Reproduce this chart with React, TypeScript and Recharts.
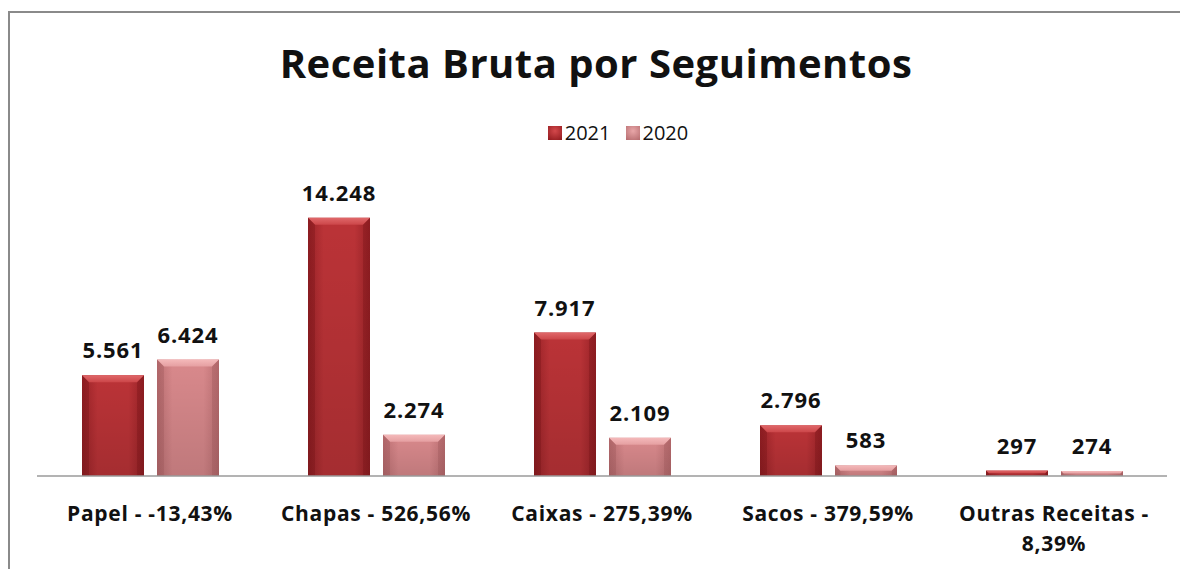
import React from "react";
import { BarChart, Bar, XAxis, YAxis, LabelList } from "recharts";

const categories = [
  "Papel - -13,43%",
  "Chapas - 526,56%",
  "Caixas - 275,39%",
  "Sacos - 379,59%",
  "Outras Receitas - 8,39%",
];
const values2021 = [5561, 14248, 7917, 2796, 297];
const values2020 = [6424, 2274, 2109, 583, 274];
const seriesNames = ["2021", "2020"];

const data = categories.map((name, i) => ({
  name,
  v2021: values2021[i],
  v2020: values2020[i],
}));

const FONT = "'Open Sans', 'Noto Sans', sans-serif";

const fmt = (v: number) => v.toLocaleString("de-DE");

const makeShape = (id: string) => (props: any) => {
  const { x, y, width, height } = props;
  if (!height || height <= 0) return null;
  const b = Math.min(7, height / 2);
  return (
    <g>
      <rect x={x} y={y} width={width} height={height} fill={`url(#${id}Body)`} />
      <rect x={x} y={y} width={width} height={height} fill="url(#shade)" />
      <polygon
        points={`${x},${y} ${x + width},${y} ${x + width - b},${y + b} ${x + b},${y + b}`}
        fill={`url(#${id}Top)`}
      />
      <polygon
        points={`${x},${y} ${x + b},${y + b} ${x + b},${y + height} ${x},${y + height}`}
        fill={`url(#${id}Side)`}
        opacity={0.3}
      />
      <polygon
        points={`${x + width},${y} ${x + width - b},${y + b} ${x + width - b},${y + height} ${x + width},${y + height}`}
        fill={`url(#${id}Side)`}
        opacity={0.3}
      />
    </g>
  );
};

const ValueLabel = (props: any) => {
  const { x, y, width, value } = props;
  return (
    <text
      x={x + width / 2}
      y={y - 17}
      textAnchor="middle"
      fontFamily={FONT}
      fontWeight={700}
      fontSize={22}
      letterSpacing={0.9}
      fill="#111"
    >
      {fmt(value)}
    </text>
  );
};

const CategoryTick = (props: any) => {
  const { x, y, payload } = props;
  const words = String(payload.value).split(" ");
  const lines: string[] = [];
  let cur = "";
  words.forEach((w) => {
    const next = cur ? cur + " " + w : w;
    if (next.length > 20 && cur) {
      lines.push(cur);
      cur = w;
    } else {
      cur = next;
    }
  });
  if (cur) lines.push(cur);
  return (
    <text
      x={x}
      y={y}
      textAnchor="middle"
      fontFamily={FONT}
      fontWeight={700}
      fontSize={21}
      letterSpacing={0.7}
      fill="#111"
    >
      {lines.map((l, i) => (
        <tspan key={i} x={x} dy={i === 0 ? 37 : 30}>
          {l}
        </tspan>
      ))}
    </text>
  );
};

const LegendBox = () => (
  <div
    style={{
      position: "absolute",
      left: 0,
      top: 119,
      width: 1236,
      display: "flex",
      justifyContent: "center",
      gap: 15,
      fontFamily: FONT,
      fontSize: 20,
      lineHeight: "28px",
      color: "#111",
    }}
  >
    {seriesNames.map((n, i) => (
      <div key={n} style={{ display: "flex", alignItems: "center", gap: 3 }}>
        <span
          style={{
            width: 14,
            height: 14,
            display: "inline-block",
            background:
              i === 0
                ? "radial-gradient(circle at 50% 35%, #d4484b, #8e181c)"
                : "radial-gradient(circle at 50% 35%, #e8a6a8, #b46a6d)",
          }}
        />
        <span>{n}</span>
      </div>
    ))}
  </div>
);

export default function App() {
  return (
    <div
      style={{
        position: "absolute",
        left: 0,
        top: 0,
        width: 1180,
        height: 569,
        overflow: "hidden",
        background: "#fff",
      }}
    >
      <div
        style={{
          position: "absolute",
          left: 8,
          top: 11,
          width: 1200,
          height: 600,
          borderLeft: "2px solid #8a8a8a",
          borderTop: "2px solid #8a8a8a",
        }}
      />
      <div
        style={{
          position: "absolute",
          left: 0,
          top: 35,
          width: 1192,
          textAlign: "center",
          fontFamily: FONT,
          fontWeight: 700,
          fontSize: 40,
          letterSpacing: 0.5,
          color: "#111",
        }}
      >
        Receita Bruta por Seguimentos
      </div>
      <LegendBox />
      <div style={{ position: "absolute", left: 0, top: 0 }}>
        <BarChart
          width={1180}
          height={569}
          data={data}
          margin={{ top: 186, right: 13, bottom: 63, left: 37 }}
          barSize={62}
          barGap={13}
        >
          <defs>
            <linearGradient id="shade" x1="0" y1="0" x2="0" y2="1">
              <stop offset="0%" stopColor="#000" stopOpacity={0} />
              <stop offset="100%" stopColor="#000" stopOpacity={0.12} />
            </linearGradient>
            <linearGradient id="r21Body" x1="0" y1="0" x2="1" y2="0">
              <stop offset="0%" stopColor="#992227" />
              <stop offset="25%" stopColor="#bb3337" />
              <stop offset="75%" stopColor="#bb3337" />
              <stop offset="100%" stopColor="#992227" />
            </linearGradient>
            <linearGradient id="r21Top" x1="0" y1="0" x2="0" y2="1">
              <stop offset="0%" stopColor="#e0686a" />
              <stop offset="100%" stopColor="#cc4649" />
            </linearGradient>
            <linearGradient id="r21Side" x1="0" y1="0" x2="0" y2="1">
              <stop offset="0%" stopColor="#6e0e12" />
              <stop offset="100%" stopColor="#6e0e12" />
            </linearGradient>
            <linearGradient id="r20Body" x1="0" y1="0" x2="1" y2="0">
              <stop offset="0%" stopColor="#bd7073" />
              <stop offset="25%" stopColor="#d9898c" />
              <stop offset="75%" stopColor="#d9898c" />
              <stop offset="100%" stopColor="#bd7073" />
            </linearGradient>
            <linearGradient id="r20Top" x1="0" y1="0" x2="0" y2="1">
              <stop offset="0%" stopColor="#f4b9ba" />
              <stop offset="100%" stopColor="#e59fa1" />
            </linearGradient>
            <linearGradient id="r20Side" x1="0" y1="0" x2="0" y2="1">
              <stop offset="0%" stopColor="#955053" />
              <stop offset="100%" stopColor="#955053" />
            </linearGradient>
          </defs>
          <XAxis
            dataKey="name"
            axisLine={{ stroke: "#9a9a9a", strokeWidth: 1.5 }}
            tickLine={false}
            tick={<CategoryTick />}
            interval={0}
          />
          <YAxis hide domain={[0, 16000]} />
          <Bar
            dataKey="v2021"
            name={seriesNames[0]}
            fill="#bb3337"
            shape={makeShape("r21")}
            isAnimationActive={false}
          >
            <LabelList dataKey="v2021" content={<ValueLabel />} />
          </Bar>
          <Bar
            dataKey="v2020"
            name={seriesNames[1]}
            fill="#d9898c"
            shape={makeShape("r20")}
            isAnimationActive={false}
          >
            <LabelList dataKey="v2020" content={<ValueLabel />} />
          </Bar>
        </BarChart>
      </div>
    </div>
  );
}
